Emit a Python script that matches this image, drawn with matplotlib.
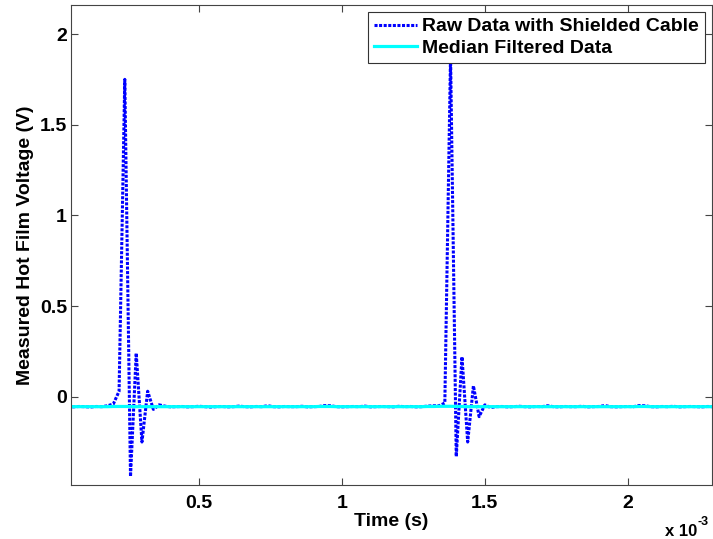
import numpy as np
import matplotlib.pyplot as plt
from matplotlib.ticker import FuncFormatter

plt.rcParams['font.family'] = ['Liberation Sans', 'DejaVu Sans']
plt.rcParams['font.weight'] = 'bold'

# sample times (s), 50 kHz sampling
t = np.arange(115) * 2e-5 + 0.04e-3

# raw hot film voltage (V)
raw_v = [
    -0.055, -0.056, -0.054, -0.055, -0.057, -0.054, -0.055, -0.050, -0.040, 0.030,
    1.750, -0.440, 0.240, -0.250, 0.030, -0.070, -0.045, -0.052, -0.056, -0.055,
    -0.054, -0.056, -0.055, -0.053, -0.055, -0.057, -0.055, -0.054, -0.056, -0.055,
    -0.052, -0.055, -0.056, -0.054, -0.055, -0.050, -0.055, -0.056, -0.054, -0.055,
    -0.055, -0.053, -0.056, -0.055, -0.054, -0.049, -0.050, -0.055, -0.056, -0.055,
    -0.054, -0.055, -0.052, -0.056, -0.055, -0.054, -0.055, -0.056, -0.053, -0.055,
    -0.054, -0.056, -0.055, -0.052, -0.050, -0.050, -0.035, 1.880, -0.330, 0.220,
    -0.250, 0.060, -0.110, -0.045, -0.060, -0.055, -0.054, -0.056, -0.055, -0.053,
    -0.055, -0.056, -0.054, -0.055, -0.050, -0.055, -0.056, -0.054, -0.055, -0.055,
    -0.053, -0.056, -0.055, -0.054, -0.049, -0.055, -0.056, -0.055, -0.054, -0.055,
    -0.049, -0.050, -0.055, -0.056, -0.054, -0.055, -0.053, -0.056, -0.055, -0.054,
    -0.055, -0.056, -0.054, -0.055, -0.055]

# median filtered voltage (V)
med_v = [
    -0.055, -0.055, -0.055, -0.055, -0.055, -0.055, -0.055, -0.055, -0.054, -0.054,
    -0.054, -0.054, -0.055, -0.055, -0.055, -0.055, -0.055, -0.055, -0.055, -0.055,
    -0.055, -0.055, -0.055, -0.055, -0.055, -0.055, -0.055, -0.055, -0.055, -0.055,
    -0.055, -0.055, -0.055, -0.055, -0.055, -0.055, -0.055, -0.055, -0.055, -0.055,
    -0.055, -0.055, -0.055, -0.055, -0.054, -0.054, -0.054, -0.055, -0.055, -0.055,
    -0.055, -0.055, -0.055, -0.055, -0.055, -0.055, -0.055, -0.055, -0.055, -0.055,
    -0.055, -0.055, -0.055, -0.054, -0.054, -0.053, -0.053, -0.053, -0.054, -0.054,
    -0.055, -0.055, -0.055, -0.055, -0.055, -0.055, -0.055, -0.055, -0.055, -0.055,
    -0.055, -0.055, -0.055, -0.055, -0.055, -0.055, -0.055, -0.055, -0.055, -0.055,
    -0.055, -0.055, -0.055, -0.055, -0.055, -0.055, -0.055, -0.055, -0.055, -0.055,
    -0.054, -0.054, -0.055, -0.055, -0.055, -0.055, -0.055, -0.055, -0.055, -0.055,
    -0.055, -0.055, -0.055, -0.055, -0.055]

fig = plt.figure(figsize=(7.13, 5.39), dpi=100)
ax = fig.add_axes([70.5 / 713, 1 - 485 / 539, 641.5 / 713, 480 / 539])

ax.plot(t, raw_v, color='#0000ff', lw=2.2, ls=(0, (1, 0.5)),
        label='Raw Data with Shielded Cable')
ax.plot(t, med_v, color='#00ffff', lw=2.3, label='Median Filtered Data')

ax.set_xlim(0.05e-3, 2.295e-3)
ax.set_ylim(-0.487, 2.16)
ax.set_xticks([0.5e-3, 1e-3, 1.5e-3, 2e-3])
ax.xaxis.set_major_formatter(FuncFormatter(lambda v, p: '%g' % (v * 1e3)))
ax.set_yticks([0, 0.5, 1, 1.5, 2])
ax.yaxis.set_major_formatter(FuncFormatter(lambda v, p: '%g' % v))

ax.tick_params(direction='in', length=5, width=0.8, color='#444444',
               top=True, right=True, labelsize=14)
ax.tick_params(axis='x', pad=7.5)
ax.tick_params(axis='y', pad=2.5)
for s in ax.spines.values():
    s.set_color('#444444')
    s.set_linewidth(0.8)

ax.set_xlabel('Time (s)', fontsize=14, fontweight='bold')
ax.xaxis.set_label_coords(0.5, -0.059)
ax.set_ylabel('Measured Hot Film Voltage (V)', fontsize=14, fontweight='bold')
ax.yaxis.set_label_coords(-0.057, 0.5)

# axis multiplier written as in the original
fig.text(665 / 713, 1 - 531 / 539, 'x 10', fontsize=12, fontweight='bold', va='center')
fig.text(697 / 713, 1 - 522 / 539, '-3', fontsize=9, fontweight='bold', va='center')

leg = ax.legend(loc='upper right', fontsize=14, fancybox=False, framealpha=1,
                edgecolor='#333333', borderaxespad=0.36, handlelength=2.2,
                handletextpad=0.3, borderpad=0.3, labelspacing=0.2)
leg.get_frame().set_linewidth(0.8)

fig.savefig('out.png', dpi=100)
